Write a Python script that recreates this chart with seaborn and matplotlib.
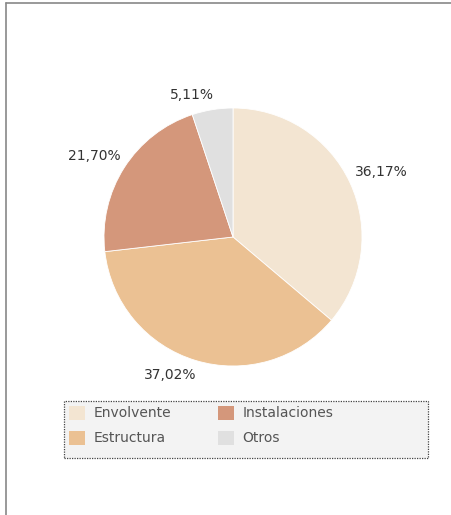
import numpy as np
import seaborn as sns
from matplotlib import pyplot as plt
from matplotlib.patches import Patch, Rectangle
from matplotlib.lines import Line2D

# data
categories = ['Envolvente', 'Estructura', 'Instalaciones', 'Otros']
shares = [36.17, 37.02, 21.70, 5.11]
labels = ['36,17%', '37,02%', '21,70%', '5,11%']
colors = ['#F3E5D2', '#EBC193', '#D4977B', '#E0E0E0']

sns.set_theme(style="white")
plt.rcParams['font.family'] = ['DejaVu Sans']
palette = sns.color_palette(colors)

W, H = 452, 515
fig = plt.figure(figsize=(W / 100, H / 100), dpi=100)

# pie centre (233, 237) px, radius 129 px
cx, cy, r = 233, 237, 129
ax = fig.add_axes([(cx - r) / W, (H - cy - r) / H, 2 * r / W, 2 * r / H])
wedges, _ = ax.pie(shares, colors=palette, startangle=90, counterclock=False,
                   wedgeprops=dict(linewidth=0.6, edgecolor='white'))
ax.set_xlim(-1, 1)
ax.set_ylim(-1, 1)
ax.set_aspect('equal')
ax.axis('off')

# labels placed just outside the rim, corner anchored at the wedge middle
for w, lab in zip(wedges, labels):
    ang = np.deg2rad((w.theta1 + w.theta2) / 2)
    x, y = np.cos(ang), np.sin(ang)
    ha = 'left' if x > 0 else 'right'
    va = 'bottom' if y > 0 else 'top'
    ax.text(1.06 * x - 0.02 * np.sign(x), 1.06 * y, lab, ha=ha, va=va,
            fontsize=10, color='#333333', clip_on=False)

# legend box
box = Rectangle((64 / W, 1 - 458 / H), (428 - 64) / W, (458 - 401) / H,
                transform=fig.transFigure, facecolor='#F3F3F3',
                edgecolor='#444444', linestyle=(0, (1, 1)), linewidth=0.9)
fig.add_artist(box)
handles = [Patch(facecolor=c, edgecolor='none') for c in palette]
fig.legend(handles, categories, loc='upper left', ncol=2,
           bbox_to_anchor=(64 / W, 1 - 401 / H), frameon=False,
           fontsize=10, labelcolor='#555555', handlelength=1.15,
           handleheight=1.15, handletextpad=0.6, columnspacing=3.4,
           labelspacing=0.75, borderaxespad=0.2, borderpad=0.15)

# sheet border (top and left)
fig.add_artist(Line2D([6 / W, 1], [1 - 3 / H, 1 - 3 / H], color='#888888',
                      linewidth=1.2, transform=fig.transFigure))
fig.add_artist(Line2D([6 / W, 6 / W], [0, 1 - 3 / H], color='#888888',
                      linewidth=1.2, transform=fig.transFigure))

fig.savefig('out.png', dpi=100)
